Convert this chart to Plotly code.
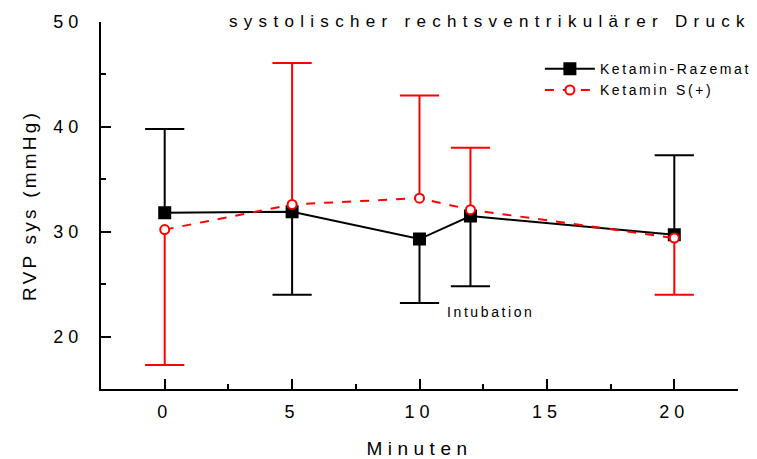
import plotly.graph_objects as go

minutes = [0, 5, 10, 12, 20]
razemat = [31.8, 31.9, 29.3, 31.5, 29.7]
razemat_err_up = [8.0, 0, 0, 0, 7.6]
razemat_err_down = [0, 7.9, 6.1, 6.7, 0]
s_plus = [30.2, 32.6, 33.2, 32.1, 29.4]
s_plus_err_up = [0, 13.5, 9.8, 5.9, 0]
s_plus_err_down = [12.9, 0, 0, 0, 5.4]

x_ticks = [0, 5, 10, 15, 20]
y_ticks = [20, 30, 40, 50]
series_names = ["Ketamin-Razemat", "Ketamin S(+)"]
title_text = "systolischer rechtsventrikulärer Druck"
x_title = "Minuten"
y_title = "RVP sys (mmHg)"
note_text = "Intubation"
note_x, note_y = 12.8, 22.3

FONT = "Liberation Sans, Arial, sans-serif"
RED = "#ff0000"


def spaced(t, px):
    return f'<span style="letter-spacing:{px}px">{t}</span>'


fig = go.Figure()


def add_series(name, y, up, down, color, dash, symbol, msize, mfill):
    # error bar stems (one-sided)
    fig.add_trace(go.Scatter(
        x=minutes, y=y, mode="markers", marker=dict(size=0, opacity=0),
        error_y=dict(type="data", symmetric=False, array=up, arrayminus=down,
                     width=0, thickness=2, color=color),
        showlegend=False, hoverinfo="skip"))
    # caps at bar ends
    cx, cy = [], []
    for xi, yi, u, d in zip(minutes, y, up, down):
        if u > 0:
            cx.append(xi); cy.append(yi + u)
        if d > 0:
            cx.append(xi); cy.append(yi - d)
    fig.add_trace(go.Scatter(
        x=cx, y=cy, mode="markers",
        marker=dict(symbol="line-ew", size=28, line=dict(width=2, color=color)),
        showlegend=False, hoverinfo="skip"))
    # main line
    fig.add_trace(go.Scatter(
        x=minutes, y=y, mode="lines+markers", name=spaced(name, 2.6),
        line=dict(color=color, width=2, dash=dash),
        marker=dict(symbol=symbol, size=msize, color=mfill,
                    line=dict(color=color, width=2))))


add_series(series_names[0], razemat, razemat_err_up, razemat_err_down,
           "black", "solid", "square", 11, "black")
add_series(series_names[1], s_plus, s_plus_err_up, s_plus_err_down,
           RED, "dash", "circle", 9, "white")

fig.add_annotation(x=1.023, y=1.0, xref="paper", yref="paper", yshift=1,
                   xanchor="right", yanchor="middle", showarrow=False,
                   text=spaced(title_text, 6.3),
                   font=dict(family=FONT, size=17, color="black"))
fig.add_annotation(x=note_x, y=note_y, showarrow=False,
                   text=spaced(note_text, 2.6),
                   font=dict(family=FONT, size=14, color="black"))

fig.update_layout(
    width=757, height=459,
    margin=dict(l=101, r=19, t=22, b=70, autoexpand=False),
    plot_bgcolor="white", paper_bgcolor="white",
    font=dict(family=FONT, color="black"),
    legend=dict(x=0.689, y=0.915, xanchor="left", yanchor="top",
                bgcolor="rgba(0,0,0,0)", font=dict(family=FONT, size=14),
                tracegroupgap=0, itemwidth=50),
    xaxis=dict(range=[-2.5, 22.5], tickmode="array", tickvals=x_ticks,
               ticktext=[spaced(str(v), 5) for v in x_ticks],
               ticks="inside", ticklen=10, tickwidth=2, tickcolor="black",
               ticklabelstandoff=5, automargin=False,
               minor=dict(ticks="inside", ticklen=5, tickwidth=2, tickcolor="black",
                          dtick=2.5, tick0=0),
               showline=True, linecolor="black", linewidth=2, showgrid=False,
               zeroline=False, tickfont=dict(family=FONT, size=18),
               title=dict(text=spaced(x_title, 5.5), font=dict(family=FONT, size=19),
                          standoff=22)),
    yaxis=dict(range=[15, 50], tickmode="array", tickvals=y_ticks,
               ticktext=[spaced(str(v), 5) for v in y_ticks],
               ticks="inside", ticklen=10, tickwidth=2, tickcolor="black",
               ticklabelstandoff=12, automargin=False,
               minor=dict(ticks="inside", ticklen=5, tickwidth=2, tickcolor="black",
                          dtick=5, tick0=0),
               showline=True, linecolor="black", linewidth=2, showgrid=False,
               zeroline=False, tickfont=dict(family=FONT, size=18),
               title=dict(text=spaced(y_title, 3.2), font=dict(family=FONT, size=19),
                          standoff=12)),
)

fig.write_html("out.html")
